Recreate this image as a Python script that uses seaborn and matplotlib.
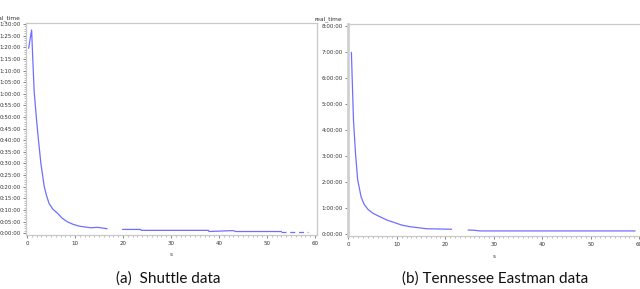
import numpy as np
import pandas as pd
import matplotlib
matplotlib.use("Agg")
import matplotlib.pyplot as plt
import seaborn as sns
from matplotlib.ticker import FuncFormatter, MultipleLocator

sns.set_style("white")

# (a) Shuttle data: s vs eval_time (minutes), gaps mark missing stretches
shuttle_s = [0.35, 0.97, 1.18, 1.5, 2.0, 2.4, 2.9, 3.6, 4.1, 4.6, 5.4, 6.4, 7.3, 8.4, 9.6, 10.9,
             13.3, 14.7, 16.7,
             19.9, 23.7, 23.8, 37.8, 37.9, 42.9, 43.5, 53.0]
shuttle_t = [79.6, 87.5, 76.7, 61.0, 48.7, 40.0, 30.0, 20.0, 16.0, 12.8, 10.3, 8.5, 6.5, 4.9, 3.8, 3.0,
             2.3, 2.5, 1.9,
             1.6, 1.6, 1.2, 1.2, 0.7, 1.1, 0.7, 0.7]
shuttle_seg = [0] * 19 + [1] * 8
shuttle_tail_s = [53.0, 58.6]
shuttle_tail_t = [0.7, 0.7]

# (b) Tennessee Eastman data: s vs real_time (hours)
te_s = [0.6, 1.03, 1.45, 1.9, 2.6, 3.2, 4.0, 5.0, 6.4, 8.0, 9.9, 11.0, 12.6, 16.1, 21.3,
        24.7, 26.0, 27.1, 59.2]
te_t = [6.99, 4.38, 3.1, 2.08, 1.43, 1.15, 0.95, 0.8, 0.67, 0.53, 0.41, 0.34, 0.28, 0.20, 0.18,
        0.15, 0.14, 0.115, 0.115]
te_seg = [0] * 15 + [1] * 4

line_color = "#6f6fff"
grey = "#c8c8c8"

fig = plt.figure(figsize=(6.4, 2.89), dpi=100)
ax1 = fig.add_axes([26 / 640, 1 - 235 / 289, 291 / 640, 212 / 289])
ax2 = fig.add_axes([348 / 640, 1 - 236 / 289, 292 / 640, 212 / 289])

df1 = pd.DataFrame({"s": shuttle_s, "eval_time": shuttle_t, "seg": shuttle_seg})
sns.lineplot(data=df1, x="s", y="eval_time", units="seg", estimator=None,
             color=line_color, lw=0.9, ax=ax1)
tail = pd.DataFrame({"s": shuttle_tail_s, "eval_time": shuttle_tail_t})
sns.lineplot(data=tail, x="s", y="eval_time", color=line_color, lw=0.9,
             linestyle=(0, (4, 3)), ax=ax1)

df2 = pd.DataFrame({"s": te_s, "real_time": te_t, "seg": te_seg})
sns.lineplot(data=df2, x="s", y="real_time", units="seg", estimator=None,
             color=line_color, lw=0.9, ax=ax2)

ax1.set_xlim(-0.2, 60.4)
ax1.set_ylim(-0.8, 90.5)
ax2.set_xlim(-0.1, 60.2)
ax2.set_ylim(-0.08, 8.08)

ax1.yaxis.set_major_locator(MultipleLocator(5))
ax1.yaxis.set_major_formatter(FuncFormatter(lambda v, p: f"{int(v) // 60}:{int(v) % 60:02d}:00"))
ax2.yaxis.set_major_locator(MultipleLocator(1))
ax2.yaxis.set_major_formatter(FuncFormatter(lambda v, p: f"{int(v)}:00:00"))

for ax, ylab in [(ax1, "eval_time"), (ax2, "real_time")]:
    ax.xaxis.set_major_locator(MultipleLocator(10))
    ax.xaxis.set_minor_locator(MultipleLocator(1))
    ax.tick_params(axis="both", which="major", labelsize=4, colors="#555555",
                   length=2.5, width=0.5, pad=1.5, direction="out",
                   bottom=True, left=True)
    ax.tick_params(axis="x", which="minor", length=1.5, width=0.4,
                   color="#888888", bottom=True)
    ax.tick_params(labelcolor="#333333")
    for sp in ax.spines.values():
        sp.set_color(grey)
        sp.set_linewidth(0.9)
    ax.set_xlabel("s", fontsize=4, color="#333333", labelpad=5)
    ax.set_ylabel("")
    ax.text(-0.02, 1.01, ylab, transform=ax.transAxes, fontsize=4.2,
            ha="right", va="bottom", color="#333333")

ax1.yaxis.set_minor_locator(MultipleLocator(1))
ax1.tick_params(axis="y", which="minor", length=1.2, width=0.4, color="#888888", left=True)
ax2.spines["left"].set_linewidth(2.0)
ax2.spines["left"].set_color("#d0d0d0")
ax2.spines["right"].set_visible(False)

fig.text(168 / 640, 1 - 279 / 289, "(a)  Shuttle data", ha="center", va="center",
         fontsize=11, family="Lato", color="#111111")
fig.text(495 / 640, 1 - 279 / 289, "(b) Tennessee Eastman data", ha="center", va="center",
         fontsize=11, family="Lato", color="#111111")

fig.savefig("out.png", dpi=100)
